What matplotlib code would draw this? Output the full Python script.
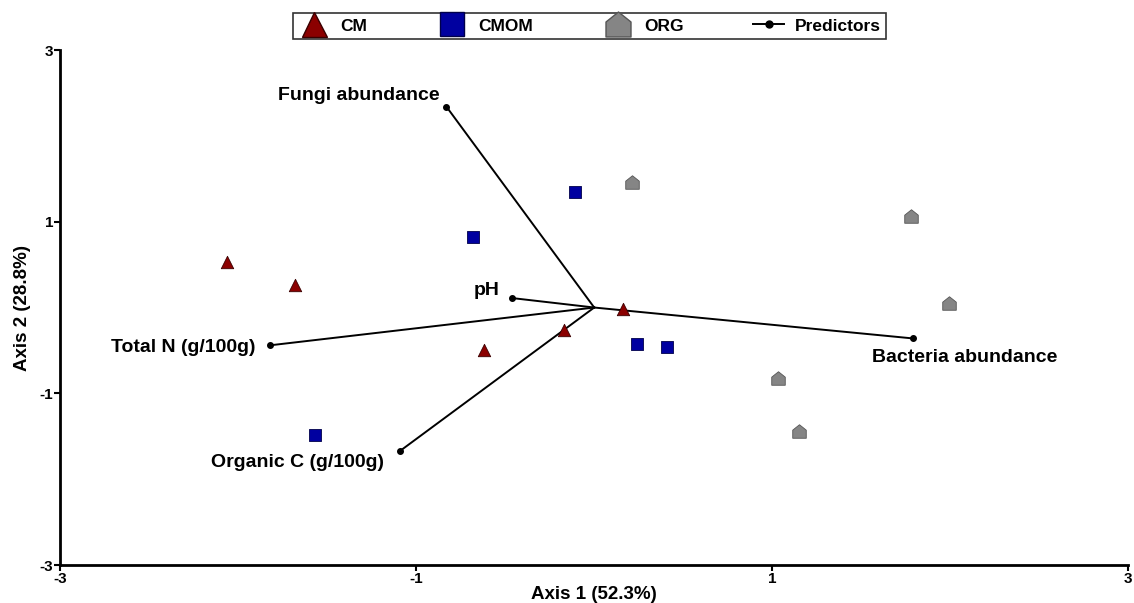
import numpy as np
import matplotlib.pyplot as plt
from matplotlib.path import Path
from matplotlib.lines import Line2D

plt.rcParams['font.family'] = ['Liberation Sans', 'DejaVu Sans']
plt.rcParams['font.weight'] = 'bold'
plt.rcParams['axes.unicode_minus'] = False

# site scores
cm_x = [-2.06, -1.68, -0.62, -0.17, 0.16]
cm_y = [0.53, 0.26, -0.50, -0.26, -0.02]
cmom_x = [-0.11, -0.68, 0.24, 0.41, -1.57]
cmom_y = [1.35, 0.82, -0.43, -0.46, -1.49]
org_x = [0.21, 1.78, 1.99, 1.03, 1.15]
org_y = [1.46, 1.07, 0.05, -0.82, -1.44]

# predictor vectors
pred_names = ["Fungi abundance", "pH", "Total N (g/100g)", "Organic C (g/100g)", "Bacteria abundance"]
pred_x = [-0.83, -0.46, -1.82, -1.09, 1.79]
pred_y = [2.34, 0.11, -0.44, -1.67, -0.36]

ticks = [-3, -1, 1, 3]

# house-shaped marker for ORG
house = Path([(-1, -1), (1, -1), (1, 0.2), (0, 1), (-1, 0.2), (-1, -1)],
             [Path.MOVETO, Path.LINETO, Path.LINETO, Path.LINETO, Path.LINETO, Path.CLOSEPOLY])

fig = plt.figure(figsize=(11.34, 6.03), dpi=100)
ax = fig.add_axes([0.053, 0.063, 0.942, 0.854])

for px, py in zip(pred_x, pred_y):
    ax.plot([0, px], [0, py], color='black', lw=1.4, zorder=2)
    ax.plot(px, py, 'o', color='black', ms=4, zorder=3)

ax.scatter(cm_x, cm_y, marker='^', s=80, color='#8b0000', edgecolor='#3a0000', lw=0.6, zorder=4)
ax.scatter(cmom_x, cmom_y, marker='s', s=65, color='#0000a0', edgecolor='#00004a', lw=0.6, zorder=4)
ax.scatter(org_x, org_y, marker=house, s=95, color='#858585', edgecolor='#555555', lw=0.6, zorder=4)

# vector labels
offsets = {
    "Fungi abundance": (-0.04, 0.13, 'right'),
    "pH": (-0.07, 0.09, 'right'),
    "Total N (g/100g)": (-0.08, -0.03, 'right'),
    "Organic C (g/100g)": (-0.09, -0.13, 'right'),
    "Bacteria abundance": (-0.23, -0.22, 'left'),
}
for name, px, py in zip(pred_names, pred_x, pred_y):
    dx, dy, ha = offsets[name]
    ax.text(px + dx, py + dy, name, ha=ha, va='center', fontsize=14, fontweight='bold')

ax.set_xlim(-3, 3)
ax.set_ylim(-3, 3)
ax.set_xticks(ticks)
ax.set_yticks(ticks)
ax.tick_params(labelsize=11, length=4, width=1.5, pad=1)
for lbl in ax.get_xticklabels() + ax.get_yticklabels():
    lbl.set_fontweight('bold')
for side in ['top', 'right']:
    ax.spines[side].set_visible(False)
for side in ['left', 'bottom']:
    ax.spines[side].set_linewidth(2)

ax.set_xlabel("Axis 1 (52.3%)", fontsize=13.5, fontweight='bold', labelpad=0)
ax.set_ylabel("Axis 2 (28.8%)", fontsize=13.5, fontweight='bold', labelpad=6)

handles = [
    Line2D([], [], marker='^', ls='none', ms=18, color='#8b0000', mec='#3a0000'),
    Line2D([], [], marker='s', ls='none', ms=17, color='#0000a0', mec='#00004a'),
    Line2D([], [], marker=house, ls='none', ms=18, color='#858585', mec='#555555'),
    Line2D([], [], marker='o', ls='-', ms=5, lw=1.4, color='black'),
]
leg = fig.legend(handles, ["CM", "CMOM", "ORG", "Predictors"], loc='center',
                 bbox_to_anchor=(0.520, 0.957), ncol=4, frameon=True, fancybox=False,
                 edgecolor='black', columnspacing=4.0, handletextpad=0.6,
                 handlelength=1.8, borderpad=0.3, prop={'weight': 'bold', 'size': 12.5})
leg.get_frame().set_linewidth(1.2)

fig.savefig("out.png", dpi=100)
